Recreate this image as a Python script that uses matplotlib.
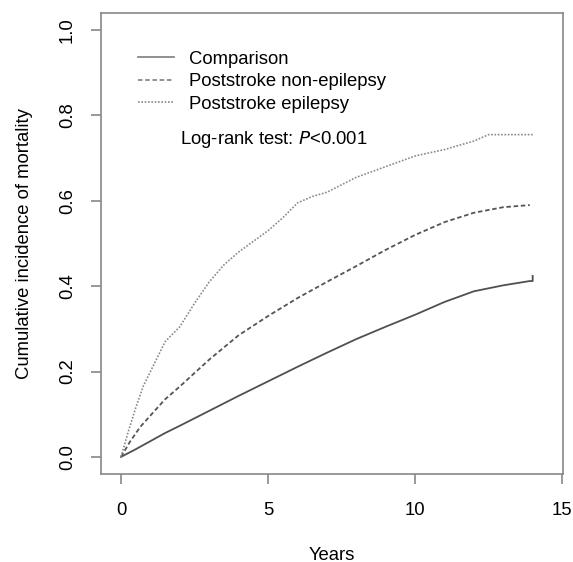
import numpy as np
import matplotlib.pyplot as plt

plt.rcParams['font.family'] = ['Liberation Sans', 'DejaVu Sans']

# values (years, cumulative incidence)
t_comp = [0, 0.5, 1, 1.5, 2, 3, 4, 5, 6, 7, 8, 9, 10, 11, 12, 13, 13.9, 14.0, 14.0]
v_comp = [0, 0.018, 0.037, 0.056, 0.073, 0.108, 0.143, 0.177, 0.211, 0.244, 0.276, 0.305, 0.333, 0.363, 0.388, 0.402, 0.412, 0.412, 0.424]

t_nonep = [0, 0.3, 0.65, 1, 1.5, 2, 3, 4, 5, 6, 7, 8, 9, 10, 11, 12, 13, 13.9]
v_nonep = [0, 0.035, 0.07, 0.097, 0.135, 0.165, 0.228, 0.285, 0.33, 0.372, 0.41, 0.447, 0.485, 0.52, 0.55, 0.572, 0.585, 0.59]

t_epi = [0, 0.25, 0.5, 0.75, 1, 1.5, 2, 2.5, 3, 3.5, 4, 4.5, 5, 5.5, 6, 6.5, 7, 8, 9, 10, 11, 12, 12.5, 13, 14]
v_epi = [0, 0.06, 0.115, 0.165, 0.2, 0.27, 0.305, 0.36, 0.41, 0.45, 0.48, 0.505, 0.53, 0.56, 0.595, 0.61, 0.62, 0.655, 0.68, 0.705, 0.72, 0.74, 0.755, 0.755, 0.755]

series_labels = ['Comparison', 'Poststroke non-epilepsy', 'Poststroke epilepsy']
x_ticks = [0, 5, 10, 15]
y_ticks = [0.0, 0.2, 0.4, 0.6, 0.8, 1.0]

fs = 13.3

fig = plt.figure(figsize=(5.73, 5.62), dpi=100)
ax = fig.add_axes([0.1763, 0.1566, 0.8062, 0.8203])

ax.plot(t_comp, v_comp, color='#505050', lw=1.3, ls='-', label=series_labels[0])
ax.plot(t_nonep, v_nonep, color='#555555', lw=1.3, ls=(0, (2.5, 1.5)), label=series_labels[1])
ax.plot(t_epi, v_epi, color='#8a8a8a', lw=1.2, ls=(0, (1, 1)), label=series_labels[2])

ax.set_xlim(-0.68, 15.03)
ax.set_ylim(-0.04, 1.04)
ax.set_xticks(x_ticks)
ax.set_yticks(y_ticks)
ax.set_xticklabels([str(v) for v in x_ticks])
ax.set_yticklabels(['%.1f' % v for v in y_ticks], rotation=90, va='center')

for s in ax.spines.values():
    s.set_color('#888888')
    s.set_linewidth(1.2)
ax.tick_params(direction='out', length=7, width=1.2, color='#888888', labelsize=fs, pad=11)
ax.tick_params(axis='x', pad=13)

ax.set_xlabel('Years', fontsize=fs, labelpad=20)
ax.set_ylabel('Cumulative incidence of mortality', fontsize=fs, labelpad=19)

leg = ax.legend(loc='upper left', bbox_to_anchor=(0.061, 0.938), frameon=False, fontsize=fs,
                borderpad=0, handlelength=1.95, handletextpad=0.8, labelspacing=0.3)
for line in leg.get_lines():
    line.set_color('#888888')

ax.text(0.171, 0.7245, 'Log-rank test: $\\it{P}$<0.001', transform=ax.transAxes,
        fontsize=fs, va='center', ha='left')

plt.savefig('out.png', dpi=100)
